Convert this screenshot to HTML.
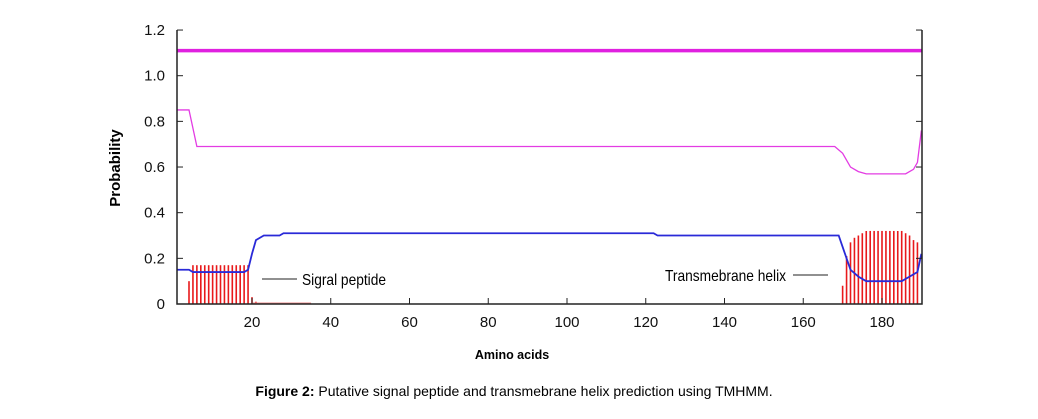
<!DOCTYPE html>
<html><head><meta charset="utf-8"><style>
body{margin:0;background:#fff;width:1038px;height:414px;overflow:hidden;font-family:"Liberation Sans",sans-serif}
svg text{font-family:"Liberation Sans",sans-serif}
</style></head><body>
<svg id="c" width="1038" height="414"></svg>
<script>
const yTicks=[0,0.2,0.4,0.6,0.8,1.0,1.2];
const yTickLabels=["0","0.2","0.4","0.6","0.8","1.0","1.2"];
const xTicks=[20,40,60,80,100,120,140,160,180];
const topLineValue=1.11;
const outsideAA=[1,4,6,20,168,170,172,174,176,186,188,189,190];
const outsideVal=[0.85,0.85,0.69,0.69,0.69,0.66,0.6,0.58,0.57,0.57,0.59,0.62,0.76];
const insideAA=[1,4,5,18,19,20,21,23,27,28,122,123,169,170,172,174,176,185,187,189,190];
const insideVal=[0.15,0.15,0.14,0.14,0.15,0.22,0.28,0.30,0.30,0.31,0.31,0.30,0.30,0.25,0.15,0.12,0.10,0.10,0.12,0.14,0.22];
const tmAA=[4,5,6,7,8,9,10,11,12,13,14,15,16,17,18,19,20,21,22,170,171,172,173,174,175,176,177,178,179,180,181,182,183,184,185,186,187,188,189];
const tmVal=[0.10,0.17,0.17,0.17,0.17,0.17,0.17,0.17,0.17,0.17,0.17,0.17,0.17,0.17,0.17,0.17,0.03,0.01,0.005,0.08,0.21,0.27,0.29,0.30,0.31,0.32,0.32,0.32,0.32,0.32,0.32,0.32,0.32,0.32,0.32,0.31,0.30,0.28,0.27];
const NS="http://www.w3.org/2000/svg",svg=document.getElementById('c');
const X=a=>252+(a-20)*3.9375, Y=v=>304-v*228.3;
function el(t,at,p){const e=document.createElementNS(NS,t);for(const k in at)e.setAttribute(k,at[k]);(p||svg).appendChild(e);return e;}
function tx(x,y,s,at){const e=el('text',Object.assign({x:x,y:y},at));e.textContent=s;return e;}
tmAA.forEach((a,i)=>{const b=el('line',{x1:X(a),x2:X(a),y1:Y(0),y2:Y(tmVal[i]),stroke:'#e8191b','stroke-width':1.6});

});
const bl=el('line',{x1:X(20),x2:X(35),y1:Y(0)-1,y2:Y(0)-1,stroke:'#e88','stroke-width':1});

function poly(aa,vv,col,w,name){const p=el('polyline',{points:aa.map((a,i)=>X(a)+','+Y(vv[i])).join(' '),fill:'none',stroke:col,'stroke-width':w});
}
poly(outsideAA,outsideVal,'#e33ce3',1.3,'outside-line');
poly(insideAA,insideVal,'#2a2ad8',1.8,'inside-line');
const tl=el('line',{x1:177,x2:922,y1:Y(topLineValue),y2:Y(topLineValue),stroke:'#e020e0','stroke-width':3.5});

const ax=el('path',{d:'M177,30 V304 H922 V30',fill:'none',stroke:'#222','stroke-width':1.5});

yTicks.forEach((v,i)=>{el('line',{x1:177,x2:183,y1:Y(v),y2:Y(v),stroke:'#222'});el('line',{x1:916,x2:922,y1:Y(v),y2:Y(v),stroke:'#222'});
const t=tx(165,Y(v)+5,yTickLabels[i],{'text-anchor':'end','font-size':15,fill:'#111'});
});
xTicks.forEach(v=>{el('line',{x1:X(v),x2:X(v),y1:304,y2:298,stroke:'#222'});
const t=tx(X(v),327,String(v),{'text-anchor':'middle','font-size':15,fill:'#111'});
});
let t=tx(120,168,'Probability',{'text-anchor':'middle','font-size':15,'font-weight':'bold',transform:'rotate(-90 120 168)'});

t=tx(512,359,'Amino acids',{'text-anchor':'middle','font-size':12.5,'font-weight':'bold'});

el('line',{x1:262,x2:297,y1:279,y2:279,stroke:'#222'});
t=tx(302,285,'Sigral peptide',{'font-size':16,'textLength':84,lengthAdjust:'spacingAndGlyphs'});

t=tx(665,281,'Transmebrane helix',{'font-size':16,'textLength':121,lengthAdjust:'spacingAndGlyphs'});

el('line',{x1:793,x2:828,y1:275,y2:275,stroke:'#222'});
t=tx(514,396,'',{'text-anchor':'middle','font-size':14});
t.innerHTML='<tspan font-weight="bold">Figure 2:</tspan> Putative signal peptide and transmebrane helix prediction using TMHMM.';

</script>
</body></html>
